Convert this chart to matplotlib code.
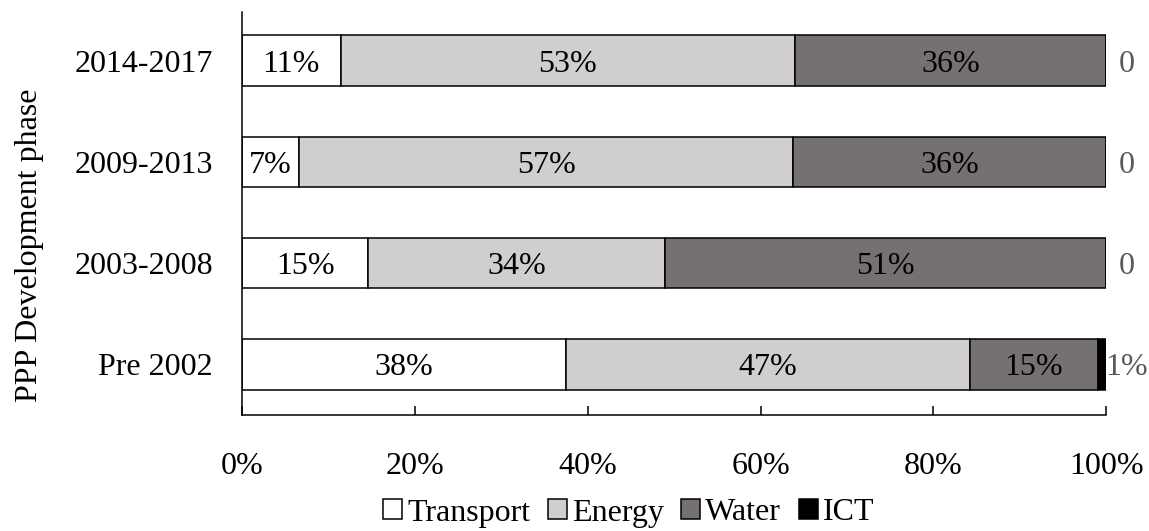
import numpy as np
import matplotlib.pyplot as plt

plt.rcParams['font.family'] = ['Liberation Serif', 'DejaVu Serif']

# PPP projects by sector and development phase (share of projects, %)
phases = ['Pre 2002', '2003-2008', '2009-2013', '2014-2017']
sectors = ['Transport', 'Energy', 'Water', 'ICT']
transport = [37.5, 14.6, 6.6, 11.4]
energy = [46.7, 34.4, 57.2, 52.6]
water = [14.8, 51.0, 36.2, 36.0]
ict = [1.0, 0.0, 0.0, 0.0]
colors = ['#ffffff', '#d0cecf', '#767171', '#000000']

fs = 23
fig = plt.figure(figsize=(11.49, 5.31), dpi=100)
ax = fig.add_axes([0.2106, 0.2185, 0.7522, 0.7585])

y = np.arange(len(phases))
left = np.zeros(len(phases))
for name, vals, c in zip(sectors, [transport, energy, water, ict], colors):
    vals = np.array(vals)
    ax.barh(y, vals, left=left, height=0.5, color=c, edgecolor='black',
            linewidth=1.1, label=name)
    for i, v in enumerate(vals):
        if name == 'ICT':
            txt = '0' if v == 0 else f'{v:.0f}%'
            ax.text(left[i] + v + 2.4, y[i], txt, ha='center',
                    va='center_baseline', fontsize=fs, color='#595959')
        else:
            ax.text(left[i] + v / 2, y[i], f'{v:.0f}%', ha='center',
                    va='center_baseline', fontsize=fs, color='black')
    left += vals

ax.set_xlim(0, 100)
ax.set_ylim(-0.5, 3.48)
ax.set_yticks(y)
ax.set_yticklabels(phases, fontsize=fs, va='center_baseline')
ax.set_xticks(np.arange(0, 101, 20))
ax.set_xticklabels([f'{t}%' for t in range(0, 101, 20)], fontsize=fs)
ax.tick_params(axis='x', direction='in', length=6.5, width=1.1, pad=27)
ax.tick_params(axis='y', length=0, pad=21)
for s in ['top', 'right']:
    ax.spines[s].set_visible(False)
for s in ['left', 'bottom']:
    ax.spines[s].set_linewidth(1.1)

fig.text(30 / 1149, 1 - 245 / 531, 'PPP Development phase', rotation=90,
         ha='center', va='center', fontsize=fs)

fig.legend(loc='center', bbox_to_anchor=(0.547, 1 - 513 / 531), ncol=4,
           frameon=False, fontsize=fs, handlelength=0.6, handleheight=0.6,
           handletextpad=0.15, columnspacing=0.55, borderpad=0)

fig.savefig('out.png', dpi=100)
